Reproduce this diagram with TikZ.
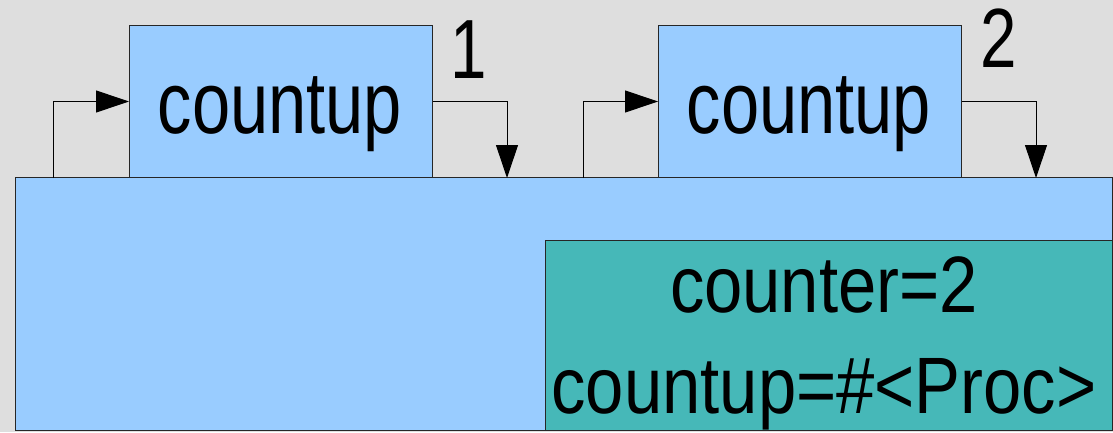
\documentclass[tikz,border=0pt]{standalone}
\usepackage{fontspec}
\setmainfont{Liberation Sans}
\newfontfamily\boxfont[FakeStretch=0.78]{Liberation Sans}
\newfontfamily\memfont[FakeStretch=0.86]{Liberation Sans}
\usetikzlibrary{arrows.meta}

\definecolor{procblue}{HTML}{99CCFF}
\definecolor{memteal}{HTML}{46B8B8}
\definecolor{bggray}{HTML}{DEDEDE}

\begin{document}
\begin{tikzpicture}[x=1pt, y=1pt, >={Triangle[length=33pt,width=22pt]},
    block/.style={draw=black!85, line width=1pt, fill=procblue, inner sep=0pt, anchor=south west},
    boxtext/.style={inner sep=0pt, anchor=base, font=\boxfont\fontsize{88}{88}\selectfont},
    memtext/.style={inner sep=0pt, anchor=base, font=\memfont\fontsize{80}{80}\selectfont},
    numtext/.style={inner sep=0pt, font=\boxfont\fontsize{84}{84}\selectfont},
    wire/.style={->, line width=1pt, black}]
    % background
    \fill[bggray] (0,0) rectangle (1113,432);

    % process and its memory
    \node[block, minimum width=1097pt, minimum height=253pt] (proc) at (15,1) {};
    \node[block, fill=memteal, minimum width=567pt, minimum height=190pt] (mem) at (545,1) {};
    \node[memtext] (memA) at (824,120) {counter=2};
    \node[memtext] (memB) at (824,19) {countup=\#<Proc>};

    % the two calls
    \node[block, minimum width=303pt, minimum height=152pt] (cu1) at (129,254) {};
    \node[block, minimum width=303pt, minimum height=152pt] (cu2) at (658,254) {};
    \node[boxtext] (cu1txt) at (280,299) {countup};
    \node[boxtext] (cu2txt) at (809,299) {countup};

    \node[numtext] (n1) at (469,382) {1};
    \node[numtext] (n2) at (999,394) {2};

    \coordinate (in1) at (53,254);
    \coordinate (out1) at (507,254);
    \coordinate (in2) at (583,254);
    \coordinate (out2) at (1036,254);

    \draw[wire] (in1) |- (cu1.west);
    \draw[wire] (cu1.east) -| (out1);
    \draw[wire] (in2) |- (cu2.west);
    \draw[wire] (cu2.east) -| (out2);
\end{tikzpicture}
\end{document}
